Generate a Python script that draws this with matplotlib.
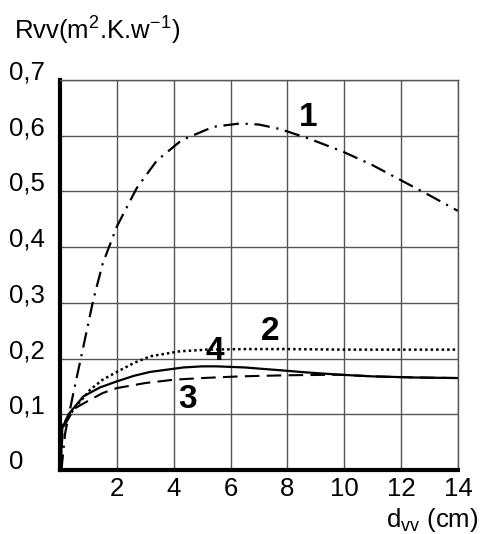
import matplotlib
matplotlib.use("Agg")
import matplotlib.pyplot as plt
import matplotlib.transforms as mtransforms

plt.rcParams['font.family'] = ['Liberation Sans', 'DejaVu Sans']
plt.rcParams['mathtext.fontset'] = 'custom'
plt.rcParams['mathtext.rm'] = 'Liberation Sans'

# curve 1 (dash-dot)
x1 = [0.05, 0.18, 0.47, 0.82, 1.17, 1.5, 2.0, 2.7, 3.4, 4.28, 5.4, 6.34, 7.0, 7.74, 8.8, 9.97, 11.0, 12.07, 13.0, 14.0]
y1 = [0.0, 0.066, 0.138, 0.221, 0.305, 0.37, 0.437, 0.506, 0.555, 0.592, 0.616, 0.622, 0.62, 0.612, 0.594, 0.571, 0.547, 0.518, 0.493, 0.465]
# curve 2 (dotted)
x2 = [0.02, 0.06, 0.47, 1.06, 1.5, 2.0, 2.6, 3.17, 4.22, 5.16, 6.5, 8.0, 10.0, 12.0, 14.0]
y2 = [0.0, 0.078, 0.108, 0.144, 0.162, 0.176, 0.192, 0.204, 0.213, 0.216, 0.217, 0.217, 0.216, 0.216, 0.216]
# curve 3 (dashed)
x3 = [0.02, 0.1, 0.5, 1.06, 1.5, 2.0, 3.0, 3.99, 5.0, 6.33, 8.0, 9.85, 11.0, 12.5, 14.0]
y3 = [0.0, 0.075, 0.11, 0.126, 0.138, 0.147, 0.156, 0.162, 0.165, 0.168, 0.17, 0.171, 0.168, 0.166, 0.165]
# curve 4 (solid)
x4 = [0.02, 0.08, 0.3, 0.82, 1.4, 2.0, 2.6, 3.17, 4.34, 5.0, 5.5, 6.5, 7.5, 8.7, 9.85, 11.0, 12.5, 14.0]
y4 = [0.0, 0.075, 0.1, 0.132, 0.148, 0.159, 0.169, 0.176, 0.184, 0.186, 0.186, 0.184, 0.18, 0.175, 0.171, 0.168, 0.166, 0.165]

xticks = [2, 4, 6, 8, 10, 12, 14]
yticks = [0, 0.1, 0.2, 0.3, 0.4, 0.5, 0.6, 0.7]
ylabels = ['0', '0,1', '0,2', '0,3', '0,4', '0,5', '0,6', '0,7']

fig = plt.figure(figsize=(4.8, 5.34), dpi=100)
ax = fig.add_axes([0.125, 0.1199, 0.829, 0.7303])

ax.plot(x1, y1, color='black', lw=1.6, dashes=[7, 3, 1, 3])
ax.plot(x2, y2, color='black', lw=1.8, dashes=[1, 1.2])
ax.plot(x3, y3, color='black', lw=1.5, dashes=[7, 3.5])
ax.plot(x4, y4, color='black', lw=1.6)

ax.text(8.72, 0.632, '1', fontsize=24, fontweight='bold', ha='center', va='center')
ax.text(7.39, 0.248, '2', fontsize=24, fontweight='bold', ha='center', va='center')
ax.text(5.45, 0.213, '4', fontsize=24, fontweight='bold', ha='center', va='center')
ax.text(4.5, 0.126, '3', fontsize=24, fontweight='bold', ha='center', va='center')

ax.set_xlim(0, 14)
ax.set_ylim(0, 0.7)
ax.set_xticks(xticks)
ax.set_yticks(yticks)
ax.set_yticklabels(ylabels)
ax.tick_params(length=0, labelsize=18.5)
ax.tick_params(axis='x', pad=5)
ax.tick_params(axis='y', pad=37)
for lab in ax.get_yticklabels():
    lab.set_horizontalalignment('left')
    lab.set_transform(lab.get_transform() + mtransforms.ScaledTranslation(0, 10 / 100, fig.dpi_scale_trans))

ax.grid(True, color='#555555', lw=1)
for s in ['top', 'right']:
    ax.spines[s].set_color('#555555')
    ax.spines[s].set_linewidth(1)
for s in ['left', 'bottom']:
    ax.spines[s].set_linewidth(3)

fig.text(0.029, 0.944, r'Rvv(m$^{\mathrm{2}}$.K.w$^{\mathrm{-1}}$)', fontsize=18.5, ha='left', va='center')
fig.text(0.996, 0.026, r'd$_{\mathrm{vv}}$ (cm)', fontsize=18.5, ha='right', va='center')

fig.savefig('out.png', dpi=100)
